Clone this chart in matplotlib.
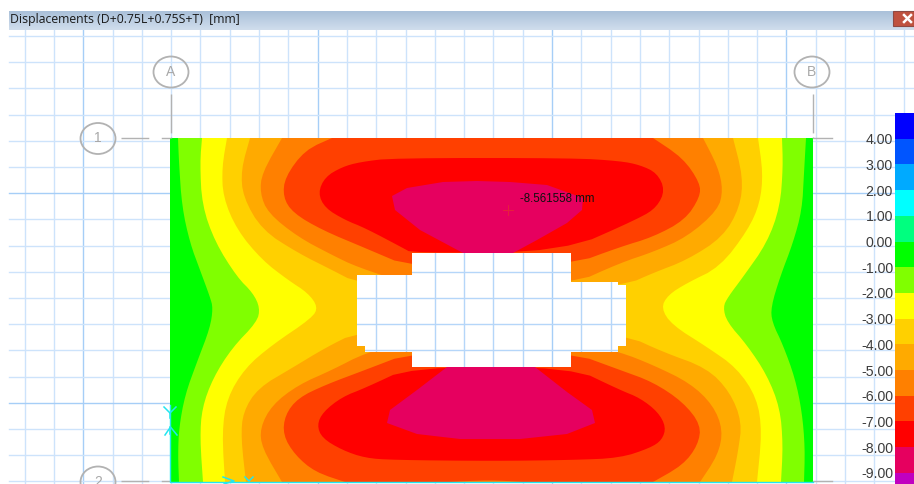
#!/usr/bin/env python3
"""
Displacement contours of a slab with an opening, drawn in screen coordinates
"""
import matplotlib.pyplot as plt
import numpy as np
from matplotlib.colors import LinearSegmentedColormap
from matplotlib.patches import Ellipse, Polygon, Rectangle

TITLE = 'Displacements (D+0.75L+0.75S+T)  [mm]'
PEAK_LABEL = '-8.561558 mm'
SCALE_LABELS = ['4.00', '3.00', '2.00', '1.00', '0.00', '-1.00', '-2.00',
                '-3.00', '-4.00', '-5.00', '-6.00', '-7.00', '-8.00', '-9.00']
SCALE_COLORS = ['#0000ff', '#0055ff', '#00aaff', '#00ffff', '#00ff7f',
                '#00ff00', '#80ff00', '#ffff00', '#ffd000', '#ffaa00',
                '#ff8000', '#ff4000', '#ff0000', '#e6005f', '#c000c0']

# band outlines
BAND_LIME = [(178, 138), (179, 163), (182, 207), (190, 243), (200, 270),
             (210, 297), (213, 308), (210, 328), (197, 362), (185, 395),
             (179, 428), (178, 455), (179, 482),
             (804, 482), (805, 448), (802, 412), (795, 378), (783, 345),
             (772, 322), (771, 307), (780, 277), (793, 243), (802, 210),
             (804, 173), (806, 138)]
BAND_YELLOW = [(202, 138), (200, 163), (202, 205), (215, 242), (237, 277),
               (253, 293), (260, 308), (257, 322), (232, 348), (213, 378),
               (202, 408), (200, 438), (203, 482),
               (781, 482), (783, 445), (780, 408), (767, 375), (747, 345),
               (727, 322), (723, 307), (728, 297), (743, 277), (767, 243),
               (780, 207), (783, 167), (782, 138)]
BAND_GOLD = [(227, 138), (222, 167), (223, 197), (237, 230), (262, 260),
             (288, 280), (308, 293), (318, 307), (312, 318), (272, 345),
             (245, 368), (227, 398), (222, 432), (225, 482),
             (757, 482), (762, 432), (757, 398), (737, 368), (707, 347),
             (672, 325), (661, 308), (668, 295), (687, 283), (720, 267),
             (748, 230), (760, 203), (763, 173), (758, 138)]
BAND_AMBER_TOP = [(250, 138), (241, 170), (243, 197), (262, 230), (298, 253),
                  (332, 270), (357, 283), (490, 300), (626, 285), (653, 273),
                  (687, 260), (723, 237), (740, 207), (743, 177), (733, 138)]
BAND_AMBER_BOTTOM = [(246, 482), (241, 438), (243, 412), (258, 388),
                     (292, 368), (325, 348), (357, 332), (490, 320),
                     (626, 335), (663, 352), (707, 368), (730, 392),
                     (742, 422), (738, 452), (732, 482)]
BAND_ORANGE_TOP = [(282, 138), (262, 173), (260, 193), (268, 213), (298, 237),
                   (332, 255), (357, 267), (412, 285), (571, 285), (620, 263),
                   (653, 252), (687, 237), (718, 210), (723, 190), (718, 167),
                   (703, 138)]
BAND_ORANGE_BOTTOM = [(282, 482), (262, 448), (260, 428), (272, 405),
                      (298, 385), (332, 370), (365, 353), (412, 340),
                      (571, 340), (620, 352), (653, 365), (690, 383),
                      (713, 405), (723, 430), (718, 455), (700, 482)]
BAND_RED_ORANGE_TOP = [(332, 138), (305, 150), (285, 177), (283, 197),
                       (293, 213), (322, 230), (365, 248), (412, 268),
                       (571, 265), (620, 247), (653, 237), (685, 220),
                       (700, 197), (700, 183), (683, 158), (653, 138)]
BAND_RED_ORANGE_BOTTOM = [(345, 482), (315, 472), (295, 455), (283, 435),
                          (285, 415), (298, 398), (325, 385), (365, 370),
                          (412, 352), (571, 352), (620, 370), (653, 382),
                          (683, 402), (701, 425), (698, 445), (683, 465),
                          (653, 482), (523, 482), (490, 480), (450, 482)]
BAND_RED_TOP = [(393, 158), (360, 162), (342, 167), (325, 177), (318, 193),
                (325, 208), (345, 220), (365, 228), (403, 248), (412, 253),
                (563, 252), (640, 218), (657, 207), (665, 190), (657, 173),
                (640, 165), (620, 161), (573, 158)]
BAND_RED_BOTTOM = [(393, 460), (365, 458), (342, 450), (322, 438), (317, 425),
                   (323, 412), (342, 397), (365, 388), (410, 367), (572, 367),
                   (620, 390), (640, 398), (658, 412), (666, 427), (662, 440),
                   (650, 448), (620, 458), (573, 460), (493, 461)]
BAND_PEAK_TOP = [(392, 196), (407, 188), (443, 182), (477, 181), (510, 182),
                 (547, 185), (583, 198), (582, 210), (567, 223), (537, 240),
                 (513, 253), (463, 253), (420, 230), (395, 210)]
BAND_PEAK_BOTTOM = [(447, 367), (417, 390), (390, 410), (387, 423), (417, 434),
                    (460, 439), (520, 439), (567, 434), (595, 423), (592, 410),
                    (567, 392), (535, 367)]
OPENING = [(412, 253), (571, 253), (571, 282), (618, 282), (618, 285),
           (626, 285), (626, 346), (618, 346), (618, 352), (571, 352),
           (571, 367), (412, 367), (412, 352), (365, 352), (365, 346),
           (357, 346), (357, 275), (412, 275)]

BANDS = [(BAND_LIME, '#80ff00'), (BAND_YELLOW, '#ffff00'),
         (BAND_GOLD, '#ffd000'),
         (BAND_AMBER_TOP, '#ffaa00'), (BAND_AMBER_BOTTOM, '#ffaa00'),
         (BAND_ORANGE_TOP, '#ff8000'), (BAND_ORANGE_BOTTOM, '#ff8000'),
         (BAND_RED_ORANGE_TOP, '#ff4000'), (BAND_RED_ORANGE_BOTTOM, '#ff4000'),
         (BAND_RED_TOP, '#ff0000'), (BAND_RED_BOTTOM, '#ff0000')]
PEAKS = [BAND_PEAK_TOP, BAND_PEAK_BOTTOM]

WIDTH, HEIGHT = 914, 484
CYAN = '#22e6f0'
GREY = '#b2b2b2'
GRID_X = 24.6 + 29.3 * np.arange(31)
GRID_Y = 36.0 + 26.2 * np.arange(18)


def round_corners(outline, passes=2):
    """
    Cut the corners of an outline, points on the slab edge stay where they are
    """
    pts = outline
    for _ in range(passes):
        out = []
        for i, (x, y) in enumerate(pts):
            if y <= 138 or y >= 482:
                out.append((x, y))
                continue
            px, py = pts[i - 1]
            nx, ny = pts[(i + 1) % len(pts)]
            out.append((0.75 * x + 0.25 * px, 0.75 * y + 0.25 * py))
            out.append((0.75 * x + 0.25 * nx, 0.75 * y + 0.25 * ny))
        pts = out
    return pts


def draw_grid(ax, zorder, clip=None):
    """
    Light drafting grid, every eighth line is stronger
    """
    minor = '#cde3fb' if clip is None else '#b5d6f9'
    lines = []
    for i, x in enumerate(GRID_X):
        color = '#a6cef7' if i % 8 == 2 else minor
        lines += ax.plot([x, x], [30, HEIGHT], color=color, lw=1.0,
                         zorder=zorder)
    for i, y in enumerate(GRID_Y):
        color = '#a6cef7' if i % 8 == 6 else minor
        lines += ax.plot([9, WIDTH], [y, y], color=color, lw=1.0,
                         zorder=zorder)
    if clip is not None:
        for line in lines:
            line.set_clip_path(clip.get_path(), clip.get_transform())


def draw_slab(ax):
    """
    Contour bands painted from the outside in, the opening on top
    """
    ax.add_patch(Rectangle((170, 138), 643, 344, fc='#00ff00', lw=0, zorder=2))
    for outline, color in BANDS:
        ax.add_patch(Polygon(round_corners(outline), closed=True, fc=color,
                             lw=0, zorder=3))
    for outline in PEAKS:
        ax.add_patch(Polygon(outline, closed=True, fc='#e6005f', lw=0,
                             zorder=3))
    hole = Polygon(OPENING, closed=True, fc='white', lw=0, zorder=4)
    ax.add_patch(hole)
    draw_grid(ax, 5, clip=hole)

    ax.plot([508, 508], [205, 215], color='#e8203c', lw=0.7, zorder=6)
    ax.plot([503, 513], [210, 210], color='#e8203c', lw=0.7, zorder=6)
    ax.text(520, 199.5, PEAK_LABEL, fontsize=8.3, color='#101010', zorder=7,
            family='Liberation Sans', va='center', ha='left')


def draw_axes_marks(ax):
    """
    Grid bubbles, dashed grid lines and support symbols
    """
    for label, cx, cy in [('A', 171, 72), ('B', 812, 72), ('1', 98, 138.5),
                          ('2', 98, 482)]:
        ax.add_patch(Ellipse((cx, cy), 35, 31, fc='none', ec=GREY, lw=1.3,
                             zorder=6))
        ax.text(cx, cy, label, fontsize=10, color='#a8a8a8', ha='center',
                va='center', family='Liberation Sans', zorder=6)
    for x in (170.5, 812.5):
        ax.plot([x, x], [94, 138], color=GREY, lw=1.0, zorder=6,
                dashes=(28, 3, 5, 3))
    for y in (138, 481):
        ax.plot([121, 170], [y, y], color=GREY, lw=1.0, zorder=6,
                dashes=(20, 9, 10, 3))
        ax.plot([813, 832], [y, y], color=GREY, lw=1.0, zorder=6)

    ax.plot([170, 170, 813], [405, 482, 482], color=CYAN, lw=1.0, zorder=6)
    ax.plot([164, 170, 176], [407, 413, 407], color=CYAN, lw=1.1, zorder=6)
    ax.plot([170, 170], [413, 418], color=CYAN, lw=1.1, zorder=6)
    ax.plot([165, 170.5, 177], [435, 427, 435], color=CYAN, lw=1.1, zorder=6)
    ax.plot([170, 170], [427, 434], color=CYAN, lw=1.1, zorder=6)
    ax.plot([223, 234, 224], [477, 481, 484], color=CYAN, lw=1.1, zorder=6)
    ax.plot([245, 249, 253], [477, 481, 477], color=CYAN, lw=1.1, zorder=6)


def draw_scale(ax):
    """
    Colour scale on the right border
    """
    edges = 113 + 25.7 * np.arange(len(SCALE_COLORS) + 1)
    for i, color in enumerate(SCALE_COLORS):
        ax.add_patch(Rectangle((895, edges[i]), 19, edges[i + 1] - edges[i],
                               fc=color, lw=0, zorder=6))
    for i, label in enumerate(SCALE_LABELS):
        ax.text(893, edges[i + 1] + 1.5, label, fontsize=10.2, color='#3c3c3c',
                ha='right', va='center', family='Liberation Sans', zorder=6)


def draw_title_bar(ax):
    """
    Window title bar with its close button
    """
    shade = np.linspace(0, 1, 20).reshape(-1, 1)
    cmap = LinearSegmentedColormap.from_list('bar', ['#aac1da', '#d0ddec'])
    ax.imshow(shade, extent=(9, WIDTH, 30, 11), cmap=cmap, aspect='auto',
              zorder=8)
    ax.text(10, 19.5, TITLE, fontsize=8.8, color='#1a1a1a', va='center',
            family='Open Sans', zorder=9)
    ax.add_patch(Rectangle((893, 11), 21, 15, fc='#c0523f', ec='#8e4a44',
                           lw=0.8, zorder=9))
    ax.plot([904, 911], [15, 22], color='white', lw=1.8, zorder=10)
    ax.plot([904, 911], [22, 15], color='white', lw=1.8, zorder=10)


def main():
    """
    Main program
    """
    fig = plt.figure(figsize=(WIDTH / 100, HEIGHT / 100), dpi=100)
    ax = fig.add_axes([0, 0, 1, 1])
    draw_grid(ax, 1)
    draw_slab(ax)
    draw_axes_marks(ax)
    draw_scale(ax)
    draw_title_bar(ax)
    ax.set_xlim(0, WIDTH)
    ax.set_ylim(HEIGHT, 0)
    ax.axis('off')
    fig.savefig('out.png', dpi=100)


if __name__ == '__main__':
    main()
